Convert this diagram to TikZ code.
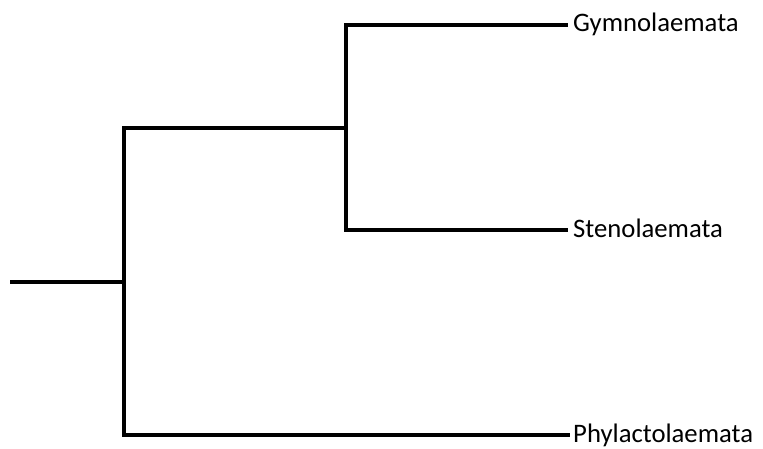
\documentclass[tikz,border=0pt]{standalone}
\usepackage{fontspec}
\setmainfont{Carlito}
\begin{document}
\begin{tikzpicture}[x=1pt,y=-1pt,
  branch/.style={line width=3.6pt, line cap=rect, line join=miter},
  taxon/.style={anchor=base west, inner sep=0pt, font=\fontsize{26.7}{30}\selectfont}]
\useasboundingbox (0,0) rectangle (763,448);
\coordinate (root) at (10,282);
\coordinate (n1) at (124,282);
\coordinate (n1t) at (124,128);
\coordinate (n1b) at (124,435);
\coordinate (n2) at (346,128);
\coordinate (n2t) at (346,25);
\coordinate (n2b) at (346,230);
\coordinate (g) at (568,25);
\coordinate (s) at (568,230);
\coordinate (p) at (570,435);
\draw[branch, line cap=butt] (root) -- (n1);
\draw[branch] (n1t) -- (n1b);
\draw[branch] (n1t) -- (n2);
\draw[branch] (n2t) -- (n2b);
\draw[branch, line cap=butt] (n2t) -- (g);
\draw[branch, line cap=butt] (n2b) -- (s);
\draw[branch, line cap=butt] (n1b) -- (p);
\node[taxon] (tg) at (573,31) {Gymnolaemata};
\node[taxon] (ts) at (573,237) {Stenolaemata};
\node[taxon] (tp) at (573,442) {Phylactolaemata};
\end{tikzpicture}
\end{document}
